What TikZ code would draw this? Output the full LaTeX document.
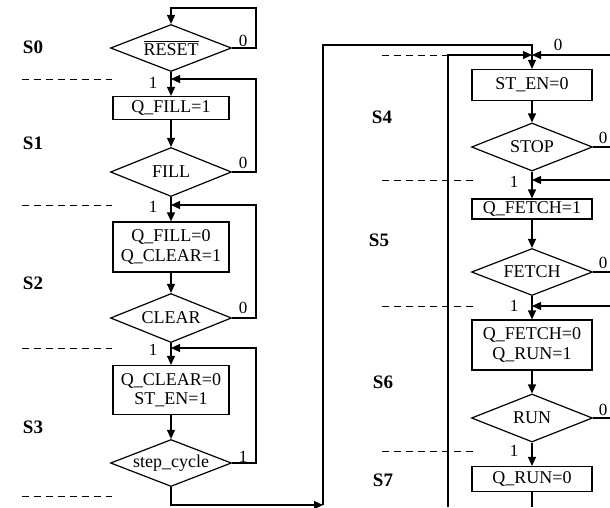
\documentclass[tikz,border=0pt]{standalone}
\usepackage{fontspec}
\setmainfont{Liberation Serif}
\usepackage{tikz}
\usetikzlibrary{arrows.meta,shapes.geometric}

\newcommand{\chartfont}{\fontsize{18}{19.5}\selectfont}
\newcommand{\statefont}{\fontsize{19}{20}\selectfont\bfseries}
\newcommand{\labfont}{\fontsize{17}{18}\selectfont}
\newcommand{\negsig}[1]{\setbox0\hbox{#1}%
  \rlap{\rule[\dimexpr\ht0+1.8pt\relax]{\wd0}{1pt}}\box0}

\begin{document}
\begin{tikzpicture}[x=1pt,y=-1pt,
  act/.style={draw,line width=1.2pt,minimum width=116pt,inner sep=1pt,
    align=center,font=\chartfont},
  actr/.style={act,minimum width=120pt},
  dec/.style={draw,diamond,line width=1.2pt,aspect=2.6,inner sep=0pt,
    minimum width=121pt,minimum height=47pt,font=\chartfont},
  stl/.style={font=\statefont,inner sep=0pt},
  lab/.style={font=\labfont,inner sep=0pt},
  sep/.style={dashed,dash pattern=on 7pt off 5pt,line width=1pt},
  wire/.style={line width=1.2pt},
  >={Triangle[length=9pt,width=8pt]}
]
\useasboundingbox (0,0) rectangle (610,507);

% left column: S0 .. S3
\node[dec] (reset) at (171,48) {\negsig{RESET}};
\node[act,minimum height=23pt] (qfill) at (171,108) {Q\_FILL=1};
\node[dec,minimum height=49pt] (fill) at (171,172) {FILL};
\node[act,minimum height=50pt] (qclear) at (171,247) {Q\_FILL=0\\Q\_CLEAR=1};
\node[dec,minimum height=49pt] (clear) at (171,318) {CLEAR};
\node[act,minimum height=49pt] (sten1) at (171,390) {Q\_CLEAR=0\\ST\_EN=1};
\node[dec] (stepc) at (171,463) {step\_cycle};

% right column: S4 .. S7
\node[actr,minimum height=31pt] (sten0) at (532,85) {ST\_EN=0};
\node[dec,minimum height=48pt] (stop) at (532,147) {STOP};
\node[actr,minimum height=20pt] (qfetch) at (532,209) {Q\_FETCH=1};
\node[dec] (fetch) at (532,272) {FETCH};
\node[actr,minimum height=50pt] (qrun) at (532,345) {Q\_FETCH=0\\Q\_RUN=1};
\node[dec,minimum height=48pt] (run) at (532,418) {RUN};
\node[actr,minimum height=25pt] (qrun0) at (532,479) {Q\_RUN=0};

% state names
\node[stl] (s0) at (33,47) {S0};
\node[stl] (s1) at (33,143) {S1};
\node[stl] (s2) at (33,283) {S2};
\node[stl] (s3) at (33,427) {S3};
\node[stl] (s4) at (382,117) {S4};
\node[stl] (s5) at (379,240) {S5};
\node[stl] (s6) at (383,382) {S6};
\node[stl] (s7) at (383,480) {S7};

% junctions and bends
\coordinate (lx) at (256,0);
\coordinate (rx) at (610,0);
\coordinate (t0) at (171,8);
\coordinate (j1) at (171,79);
\coordinate (j2) at (171,205);
\coordinate (j3) at (171,348);
\coordinate (c1) at (323,505);
\coordinate (c2) at (532,45);
\coordinate (j4) at (532,55);
\coordinate (b4) at (448,507);
\coordinate (j5) at (532,180);
\coordinate (j6) at (532,306);
\coordinate (bot) at (532,507);

% state boundaries
\foreach \y in {79,205,348,496}
  \draw[sep] (22,\y) -- (112,\y);
\draw[sep] (382,55) -- (447,55);
\foreach \y in {180,306,451}
  \draw[sep] (382,\y) -- (473,\y);

% flow, left
\draw[wire,->] (reset.east) -- (reset.east -| lx) |- (t0) -- (reset.north);
\draw[wire,->] (reset) -- (qfill);
\draw[wire,->] (qfill) -- (fill);
\draw[wire,->] (fill.east) -- (fill.east -| lx) |- (j1);
\draw[wire,->] (fill) -- (qclear);
\draw[wire,->] (qclear) -- (clear);
\draw[wire,->] (clear.east) -- (clear.east -| lx) |- (j2);
\draw[wire,->] (clear) -- (sten1);
\draw[wire,->] (sten1) -- (stepc);
\draw[wire,->] (stepc.east) -- (stepc.east -| lx) |- (j3);
\draw[wire,->] (stepc.south) |- (c1);

% flow, right
\draw[wire,->] (c1) |- (c2) -- (sten0.north);
\draw[wire,->] (b4) |- (j4);
\draw[wire,->] (j4 -| rx) -- (j4);
\draw[wire,->] (sten0) -- (stop);
\draw[wire] (stop.east) -- (stop.east -| rx);
\draw[wire,->] (j5 -| rx) -- (j5);
\draw[wire,->] (stop) -- (qfetch);
\draw[wire,->] (qfetch) -- (fetch);
\draw[wire] (fetch.east) -- (fetch.east -| rx);
\draw[wire,->] (j6 -| rx) -- (j6);
\draw[wire,->] (fetch) -- (qrun);
\draw[wire,->] (qrun) -- (run);
\draw[wire] (run.east) -- (run.east -| rx);
\draw[wire,->] (run) -- (qrun0);
\draw[wire] (qrun0) -- (bot);

% branch values
\node[lab] (v0) at (243,41) {0};
\node[lab] (v1) at (153,83) {1};
\node[lab] (v2) at (243,163) {0};
\node[lab] (v3) at (153,207) {1};
\node[lab] (v4) at (243,308) {0};
\node[lab] (v5) at (153,350) {1};
\node[lab] (v6) at (243,457) {1};
\node[lab] (v7) at (558,45) {0};
\node[lab] (v8) at (603,138) {0};
\node[lab] (v9) at (514,182) {1};
\node[lab] (v10) at (603,263) {0};
\node[lab] (v11) at (514,306) {1};
\node[lab] (v12) at (603,410) {0};
\node[lab] (v13) at (514,451) {1};
\end{tikzpicture}
\end{document}
